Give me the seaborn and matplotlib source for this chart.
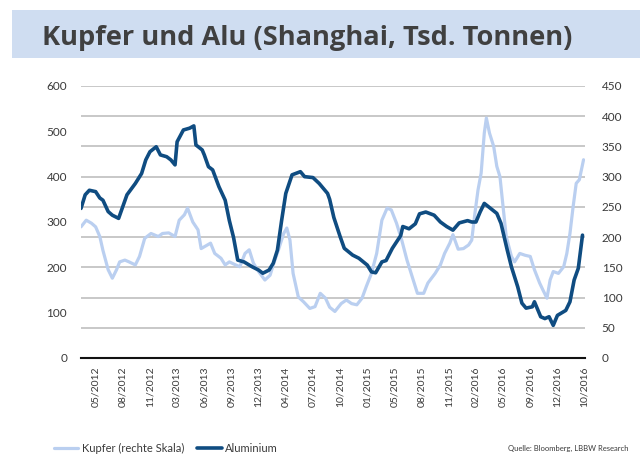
import numpy as np
import matplotlib
matplotlib.use("Agg")
import matplotlib.pyplot as plt
import seaborn as sns
from matplotlib.lines import Line2D
from matplotlib.patches import Rectangle
from matplotlib.ticker import MultipleLocator

sns.set_theme(style="white")
plt.rcParams["font.family"] = ["Lato", "DejaVu Sans"]

# Aluminium (left scale, Tsd. t), by week index
alu_week = [0, 2, 4, 7, 9, 10.5, 13, 15, 18, 20, 22, 26, 29, 31, 33, 36, 38, 41, 43, 45,
            46, 49, 52, 54, 55, 58, 59, 61, 63, 66, 69, 71, 73, 75, 78, 82, 85, 87, 90, 92,
            94, 96, 98, 101, 105, 107, 111, 114, 118, 119, 121, 124, 126, 130, 133, 137, 139,
            141, 144, 146, 149, 153, 154, 157, 160, 162, 165, 169, 172, 175, 178, 181, 185,
            187, 189, 191, 193, 196, 199, 201, 204, 206, 209, 211, 213, 216, 217, 220, 222,
            224, 226, 228, 232, 234, 236, 238, 240]
alu_val = [330, 360, 370, 367, 353, 348, 323, 315, 308, 334, 360, 385, 407, 437, 455, 466, 448,
           444, 437, 426, 477, 503, 507, 512, 470, 459, 448, 422, 415, 378, 348, 303, 266, 216,
           212, 201, 194, 187, 194, 209, 238, 303, 363, 404, 411, 400, 398, 385, 363, 350, 310,
           268, 242, 227, 220, 205, 190, 188, 212, 215, 242, 270, 290, 285, 296, 318, 322, 315,
           300, 290, 282, 298, 303, 300, 300, 322, 341, 330, 319, 297, 238, 201, 157, 121, 110,
           113, 124, 91, 87, 91, 72, 94, 105, 124, 172, 198, 271]

# Kupfer (right scale, Tsd. t), by week index
cu_week = [0, 2.5, 5, 7, 9, 10.5, 13, 15, 17, 18.5, 21, 23, 26, 28, 30.5, 33.5, 37, 39, 42, 45,
           47, 49.5, 51, 53.5, 56, 57.5, 59, 62, 64, 67, 69, 71, 74, 76, 78.5, 80.5, 82.5, 85,
           88, 90.5, 92, 94.5, 97, 98.5, 100, 101.5, 104, 106.5, 109.5, 112, 114.5, 117, 119,
           121.5, 124.5, 127, 129.5, 132, 134.5, 136.5, 139, 141.5, 144, 146.5, 148.5, 151,
           153.5, 156, 159, 161, 164, 166, 169.5, 172, 174, 176.5, 178, 180.5, 183, 185.5, 187,
           188.5, 190, 191.5, 193, 194, 195.5, 197.5, 199, 200.5, 202, 203.5, 206, 207.5, 210,
           212.5, 215, 217, 219.5, 221, 223, 224.5, 226, 228.5, 231, 232.5, 234, 235.5, 237,
           238.5, 240.5]
cu_val = [217, 228, 223, 217, 201, 178, 146, 132, 146, 159, 162, 159, 154, 168, 198, 206, 201,
          206, 207, 201, 228, 237, 248, 225, 212, 181, 184, 190, 173, 165, 154, 159, 154, 151,
          173, 179, 157, 143, 129, 137, 154, 179, 206, 215, 195, 140, 101, 93, 82, 85, 107, 99,
          84, 77, 90, 96, 90, 88, 99, 118, 140, 173, 228, 248, 245, 223, 195, 162, 129, 107, 107,
          124, 140, 154, 173, 190, 204, 180, 181, 187, 195, 239, 278, 306, 372, 397, 372, 350,
          317, 300, 250, 201, 168, 159, 173, 170, 168, 146, 124, 113, 99, 129, 143, 140, 151,
          173, 206, 250, 289, 295, 328]

tick_labels = ["05/2012", "08/2012", "11/2012", "03/2013", "06/2013", "09/2013", "12/2013",
               "04/2014", "07/2014", "10/2014", "01/2015", "05/2015", "08/2015", "11/2015",
               "02/2016", "05/2016", "09/2016", "12/2016", "10/2016"]
tick_weeks = [7 + 13 * i for i in range(len(tick_labels))]

alu_color = "#0f4c81"
cu_color = "#bacff0"
txt = "#3a3a3a"

fig = plt.figure(figsize=(6.4, 4.62), dpi=100)
fig.patches.append(Rectangle((12 / 640, 1 - 58 / 462), 1, 48 / 462, transform=fig.transFigure,
                             facecolor="#cfddf1", edgecolor="none", zorder=0))
fig.text(42 / 640, 1 - 38 / 462, "Kupfer und Alu (Shanghai, Tsd. Tonnen)", fontsize=19.6,
         fontweight="bold", color="#404040", va="center", ha="left",
         family=["Open Sans", "DejaVu Sans"])

ax_cu = fig.add_axes([81 / 640, 1 - 358 / 462, 504 / 640, 272 / 462])
ax_al = ax_cu.twinx()

sns.lineplot(x=cu_week, y=cu_val, ax=ax_cu, color=cu_color, linewidth=2.3)
sns.lineplot(x=alu_week, y=alu_val, ax=ax_al, color=alu_color, linewidth=2.6)

ax_cu.set_xlim(0, 241.2)
ax_cu.set_ylim(0, 450)
ax_al.set_ylim(0, 600)
ax_cu.yaxis.set_major_locator(MultipleLocator(50))
ax_al.yaxis.set_major_locator(MultipleLocator(100))
ax_cu.yaxis.tick_right()
ax_al.yaxis.tick_left()
ax_cu.grid(axis="y", color="#c4c4c4", linewidth=1.3)
ax_cu.grid(axis="x", visible=False)
ax_al.grid(False)

ax_cu.set_xticks(tick_weeks)
ax_cu.set_xticklabels(tick_labels, rotation=90, fontsize=7.5, color=txt)
for a in (ax_cu, ax_al):
    a.set_xlabel("")
    a.set_ylabel("")
    for s in a.spines.values():
        s.set_visible(False)
    a.tick_params(length=0, labelsize=8.5, labelcolor=txt)
ax_cu.tick_params(axis="y", pad=12)
ax_al.tick_params(axis="y", pad=10)
ax_cu.tick_params(axis="x", pad=6, labelsize=7.5)
ax_cu.spines["bottom"].set_visible(True)
ax_cu.spines["bottom"].set_color("#111111")
ax_cu.spines["bottom"].set_linewidth(1.5)

handles = [Line2D([], [], color=cu_color, lw=2.3), Line2D([], [], color=alu_color, lw=2.6)]
fig.legend(handles, ["Kupfer (rechte Skala)", "Aluminium"], loc="center left",
           bbox_to_anchor=(44 / 640, 1 - 448 / 462), ncol=2, frameon=False, fontsize=8,
           handlelength=2.2, handletextpad=0.3, columnspacing=1.2, labelcolor=txt)
fig.text(628 / 640, 1 - 448 / 462, "Quelle: Bloomberg, LBBW Research", fontsize=5.5,
         color=txt, ha="right", va="center")

fig.savefig("out.png", dpi=100)
